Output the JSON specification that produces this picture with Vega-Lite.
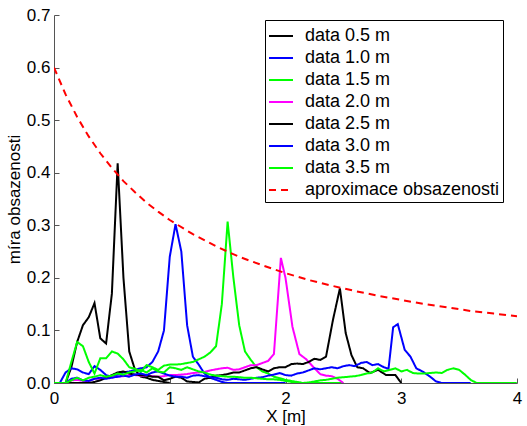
{
"$schema": "https://vega.github.io/schema/vega-lite/v6.json",
"width": 463, "height": 368,
"autosize": {"type": "none"},
"padding": {"left": 54, "top": 15, "right": 10, "bottom": 43},
"background": "white",
"config": {"view": {"stroke": null}, "font": "Liberation Sans"},
"data": {"values": [
{"s":"data 0.5 m","x":0,"y":0},{"s":"data 0.5 m","x":0.05,"y":0},{"s":"data 0.5 m","x":0.1,"y":0},{"s":"data 0.5 m","x":0.15,"y":0.03},{"s":"data 0.5 m","x":0.2,"y":0.078},{"s":"data 0.5 m","x":0.25,"y":0.11},{"s":"data 0.5 m","x":0.3,"y":0.125},{"s":"data 0.5 m","x":0.35,"y":0.152},{"s":"data 0.5 m","x":0.4,"y":0.085},{"s":"data 0.5 m","x":0.45,"y":0.075},{"s":"data 0.5 m","x":0.5,"y":0.17},{"s":"data 0.5 m","x":0.55,"y":0.418},{"s":"data 0.5 m","x":0.6,"y":0.2},{"s":"data 0.5 m","x":0.65,"y":0.06},{"s":"data 0.5 m","x":0.7,"y":0.025},{"s":"data 0.5 m","x":0.75,"y":0.012},{"s":"data 0.5 m","x":0.8,"y":0.01},{"s":"data 0.5 m","x":0.85,"y":0.006},{"s":"data 0.5 m","x":0.9,"y":0.004},{"s":"data 0.5 m","x":0.95,"y":0.002},{"s":"data 0.5 m","x":1.0,"y":0},
{"s":"data 1.0 m","x":0,"y":0},{"s":"data 1.0 m","x":0.05,"y":0},{"s":"data 1.0 m","x":0.1,"y":0.02},{"s":"data 1.0 m","x":0.15,"y":0.028},{"s":"data 1.0 m","x":0.2,"y":0.026},{"s":"data 1.0 m","x":0.25,"y":0.02},{"s":"data 1.0 m","x":0.3,"y":0.017},{"s":"data 1.0 m","x":0.35,"y":0.032},{"s":"data 1.0 m","x":0.4,"y":0.025},{"s":"data 1.0 m","x":0.45,"y":0.015},{"s":"data 1.0 m","x":0.5,"y":0.012},{"s":"data 1.0 m","x":0.55,"y":0.016},{"s":"data 1.0 m","x":0.6,"y":0.02},{"s":"data 1.0 m","x":0.65,"y":0.022},{"s":"data 1.0 m","x":0.7,"y":0.025},{"s":"data 1.0 m","x":0.75,"y":0.028},{"s":"data 1.0 m","x":0.8,"y":0.03},{"s":"data 1.0 m","x":0.85,"y":0.04},{"s":"data 1.0 m","x":0.9,"y":0.06},{"s":"data 1.0 m","x":0.95,"y":0.1},{"s":"data 1.0 m","x":1.0,"y":0.24},{"s":"data 1.0 m","x":1.05,"y":0.302},{"s":"data 1.0 m","x":1.1,"y":0.25},{"s":"data 1.0 m","x":1.15,"y":0.11},{"s":"data 1.0 m","x":1.2,"y":0.05},{"s":"data 1.0 m","x":1.25,"y":0.035},{"s":"data 1.0 m","x":1.3,"y":0.018},{"s":"data 1.0 m","x":1.35,"y":0.01},{"s":"data 1.0 m","x":1.4,"y":0.006},{"s":"data 1.0 m","x":1.45,"y":0.002},{"s":"data 1.0 m","x":1.5,"y":0},{"s":"data 1.0 m","x":1.75,"y":0},{"s":"data 1.0 m","x":2.0,"y":0},
{"s":"data 1.5 m","x":0,"y":0},{"s":"data 1.5 m","x":0.05,"y":0},{"s":"data 1.5 m","x":0.1,"y":0},{"s":"data 1.5 m","x":0.15,"y":0.04},{"s":"data 1.5 m","x":0.2,"y":0.078},{"s":"data 1.5 m","x":0.25,"y":0.07},{"s":"data 1.5 m","x":0.3,"y":0.04},{"s":"data 1.5 m","x":0.35,"y":0.018},{"s":"data 1.5 m","x":0.4,"y":0.047},{"s":"data 1.5 m","x":0.45,"y":0.047},{"s":"data 1.5 m","x":0.5,"y":0.06},{"s":"data 1.5 m","x":0.55,"y":0.056},{"s":"data 1.5 m","x":0.6,"y":0.045},{"s":"data 1.5 m","x":0.65,"y":0.03},{"s":"data 1.5 m","x":0.7,"y":0.027},{"s":"data 1.5 m","x":0.75,"y":0.021},{"s":"data 1.5 m","x":0.8,"y":0.034},{"s":"data 1.5 m","x":0.85,"y":0.03},{"s":"data 1.5 m","x":0.9,"y":0.025},{"s":"data 1.5 m","x":0.95,"y":0.033},{"s":"data 1.5 m","x":1.0,"y":0.035},{"s":"data 1.5 m","x":1.05,"y":0.035},{"s":"data 1.5 m","x":1.1,"y":0.036},{"s":"data 1.5 m","x":1.15,"y":0.038},{"s":"data 1.5 m","x":1.2,"y":0.04},{"s":"data 1.5 m","x":1.25,"y":0.045},{"s":"data 1.5 m","x":1.3,"y":0.05},{"s":"data 1.5 m","x":1.35,"y":0.058},{"s":"data 1.5 m","x":1.4,"y":0.07},{"s":"data 1.5 m","x":1.45,"y":0.15},{"s":"data 1.5 m","x":1.5,"y":0.307},{"s":"data 1.5 m","x":1.55,"y":0.2},{"s":"data 1.5 m","x":1.6,"y":0.11},{"s":"data 1.5 m","x":1.65,"y":0.06},{"s":"data 1.5 m","x":1.7,"y":0.044},{"s":"data 1.5 m","x":1.75,"y":0.03},{"s":"data 1.5 m","x":1.8,"y":0.022},{"s":"data 1.5 m","x":1.85,"y":0.018},{"s":"data 1.5 m","x":1.9,"y":0.012},{"s":"data 1.5 m","x":1.95,"y":0.009},{"s":"data 1.5 m","x":2.0,"y":0.006},{"s":"data 1.5 m","x":2.05,"y":0.004},{"s":"data 1.5 m","x":2.1,"y":0.002},{"s":"data 1.5 m","x":2.15,"y":0},{"s":"data 1.5 m","x":2.5,"y":0},
{"s":"data 2.0 m","x":0,"y":0},{"s":"data 2.0 m","x":0.05,"y":0},{"s":"data 2.0 m","x":0.1,"y":0},{"s":"data 2.0 m","x":0.15,"y":0.005},{"s":"data 2.0 m","x":0.2,"y":0.006},{"s":"data 2.0 m","x":0.25,"y":0.004},{"s":"data 2.0 m","x":0.3,"y":0.004},{"s":"data 2.0 m","x":0.35,"y":0.008},{"s":"data 2.0 m","x":0.4,"y":0.008},{"s":"data 2.0 m","x":0.45,"y":0.01},{"s":"data 2.0 m","x":0.5,"y":0.011},{"s":"data 2.0 m","x":0.55,"y":0.012},{"s":"data 2.0 m","x":0.6,"y":0.013},{"s":"data 2.0 m","x":0.65,"y":0.015},{"s":"data 2.0 m","x":0.7,"y":0.015},{"s":"data 2.0 m","x":0.75,"y":0.014},{"s":"data 2.0 m","x":0.8,"y":0.014},{"s":"data 2.0 m","x":0.85,"y":0.013},{"s":"data 2.0 m","x":0.9,"y":0.012},{"s":"data 2.0 m","x":0.95,"y":0.013},{"s":"data 2.0 m","x":1.0,"y":0.015},{"s":"data 2.0 m","x":1.05,"y":0.015},{"s":"data 2.0 m","x":1.1,"y":0.016},{"s":"data 2.0 m","x":1.15,"y":0.017},{"s":"data 2.0 m","x":1.2,"y":0.019},{"s":"data 2.0 m","x":1.25,"y":0.02},{"s":"data 2.0 m","x":1.3,"y":0.021},{"s":"data 2.0 m","x":1.35,"y":0.024},{"s":"data 2.0 m","x":1.4,"y":0.026},{"s":"data 2.0 m","x":1.45,"y":0.028},{"s":"data 2.0 m","x":1.5,"y":0.029},{"s":"data 2.0 m","x":1.55,"y":0.025},{"s":"data 2.0 m","x":1.6,"y":0.026},{"s":"data 2.0 m","x":1.65,"y":0.03},{"s":"data 2.0 m","x":1.7,"y":0.034},{"s":"data 2.0 m","x":1.75,"y":0.034},{"s":"data 2.0 m","x":1.8,"y":0.038},{"s":"data 2.0 m","x":1.85,"y":0.042},{"s":"data 2.0 m","x":1.9,"y":0.055},{"s":"data 2.0 m","x":1.96,"y":0.238},{"s":"data 2.0 m","x":2.0,"y":0.2},{"s":"data 2.0 m","x":2.06,"y":0.107},{"s":"data 2.0 m","x":2.12,"y":0.055},{"s":"data 2.0 m","x":2.18,"y":0.045},{"s":"data 2.0 m","x":2.25,"y":0.028},{"s":"data 2.0 m","x":2.3,"y":0.017},{"s":"data 2.0 m","x":2.35,"y":0.014},{"s":"data 2.0 m","x":2.4,"y":0.013},{"s":"data 2.0 m","x":2.45,"y":0.008},{"s":"data 2.0 m","x":2.5,"y":0},
{"s":"data 2.5 m","x":0,"y":0},{"s":"data 2.5 m","x":0.1,"y":0},{"s":"data 2.5 m","x":0.2,"y":0},{"s":"data 2.5 m","x":0.3,"y":0},{"s":"data 2.5 m","x":0.35,"y":0.002},{"s":"data 2.5 m","x":0.4,"y":0.005},{"s":"data 2.5 m","x":0.45,"y":0.01},{"s":"data 2.5 m","x":0.5,"y":0.015},{"s":"data 2.5 m","x":0.55,"y":0.02},{"s":"data 2.5 m","x":0.6,"y":0.022},{"s":"data 2.5 m","x":0.65,"y":0.018},{"s":"data 2.5 m","x":0.7,"y":0.016},{"s":"data 2.5 m","x":0.75,"y":0.015},{"s":"data 2.5 m","x":0.8,"y":0.014},{"s":"data 2.5 m","x":0.85,"y":0.012},{"s":"data 2.5 m","x":0.9,"y":0.012},{"s":"data 2.5 m","x":0.95,"y":0.005},{"s":"data 2.5 m","x":1.0,"y":0.008},{"s":"data 2.5 m","x":1.05,"y":0.012},{"s":"data 2.5 m","x":1.1,"y":0.01},{"s":"data 2.5 m","x":1.15,"y":0.003},{"s":"data 2.5 m","x":1.2,"y":0.002},{"s":"data 2.5 m","x":1.25,"y":0.001},{"s":"data 2.5 m","x":1.3,"y":0.008},{"s":"data 2.5 m","x":1.35,"y":0.01},{"s":"data 2.5 m","x":1.4,"y":0.014},{"s":"data 2.5 m","x":1.45,"y":0.015},{"s":"data 2.5 m","x":1.5,"y":0.017},{"s":"data 2.5 m","x":1.55,"y":0.02},{"s":"data 2.5 m","x":1.6,"y":0.02},{"s":"data 2.5 m","x":1.65,"y":0.024},{"s":"data 2.5 m","x":1.7,"y":0.028},{"s":"data 2.5 m","x":1.75,"y":0.03},{"s":"data 2.5 m","x":1.8,"y":0.026},{"s":"data 2.5 m","x":1.85,"y":0.022},{"s":"data 2.5 m","x":1.9,"y":0.028},{"s":"data 2.5 m","x":1.95,"y":0.03},{"s":"data 2.5 m","x":2.0,"y":0.03},{"s":"data 2.5 m","x":2.05,"y":0.036},{"s":"data 2.5 m","x":2.1,"y":0.037},{"s":"data 2.5 m","x":2.15,"y":0.036},{"s":"data 2.5 m","x":2.2,"y":0.04},{"s":"data 2.5 m","x":2.25,"y":0.046},{"s":"data 2.5 m","x":2.3,"y":0.044},{"s":"data 2.5 m","x":2.35,"y":0.05},{"s":"data 2.5 m","x":2.41,"y":0.12},{"s":"data 2.5 m","x":2.47,"y":0.18},{"s":"data 2.5 m","x":2.52,"y":0.095},{"s":"data 2.5 m","x":2.57,"y":0.053},{"s":"data 2.5 m","x":2.62,"y":0.03},{"s":"data 2.5 m","x":2.67,"y":0.028},{"s":"data 2.5 m","x":2.73,"y":0.019},{"s":"data 2.5 m","x":2.8,"y":0.025},{"s":"data 2.5 m","x":2.87,"y":0.015},{"s":"data 2.5 m","x":2.95,"y":0.015},{"s":"data 2.5 m","x":3.0,"y":0},
{"s":"data 3.0 m","x":0,"y":0},{"s":"data 3.0 m","x":0.05,"y":0},{"s":"data 3.0 m","x":0.1,"y":0},{"s":"data 3.0 m","x":0.15,"y":0.008},{"s":"data 3.0 m","x":0.2,"y":0.01},{"s":"data 3.0 m","x":0.25,"y":0.005},{"s":"data 3.0 m","x":0.3,"y":0.004},{"s":"data 3.0 m","x":0.35,"y":0.008},{"s":"data 3.0 m","x":0.4,"y":0.01},{"s":"data 3.0 m","x":0.45,"y":0.008},{"s":"data 3.0 m","x":0.5,"y":0.01},{"s":"data 3.0 m","x":0.55,"y":0.012},{"s":"data 3.0 m","x":0.6,"y":0.014},{"s":"data 3.0 m","x":0.65,"y":0.012},{"s":"data 3.0 m","x":0.7,"y":0.016},{"s":"data 3.0 m","x":0.75,"y":0.018},{"s":"data 3.0 m","x":0.8,"y":0.015},{"s":"data 3.0 m","x":0.85,"y":0.02},{"s":"data 3.0 m","x":0.9,"y":0.022},{"s":"data 3.0 m","x":0.95,"y":0.018},{"s":"data 3.0 m","x":1.0,"y":0.014},{"s":"data 3.0 m","x":1.05,"y":0.012},{"s":"data 3.0 m","x":1.1,"y":0.012},{"s":"data 3.0 m","x":1.15,"y":0.01},{"s":"data 3.0 m","x":1.2,"y":0.014},{"s":"data 3.0 m","x":1.25,"y":0.015},{"s":"data 3.0 m","x":1.3,"y":0.013},{"s":"data 3.0 m","x":1.35,"y":0.011},{"s":"data 3.0 m","x":1.4,"y":0.01},{"s":"data 3.0 m","x":1.45,"y":0.007},{"s":"data 3.0 m","x":1.5,"y":0.006},{"s":"data 3.0 m","x":1.55,"y":0.008},{"s":"data 3.0 m","x":1.6,"y":0.007},{"s":"data 3.0 m","x":1.65,"y":0.006},{"s":"data 3.0 m","x":1.7,"y":0.008},{"s":"data 3.0 m","x":1.75,"y":0.01},{"s":"data 3.0 m","x":1.8,"y":0.011},{"s":"data 3.0 m","x":1.85,"y":0.014},{"s":"data 3.0 m","x":1.9,"y":0.016},{"s":"data 3.0 m","x":1.95,"y":0.019},{"s":"data 3.0 m","x":2.0,"y":0.015},{"s":"data 3.0 m","x":2.05,"y":0.014},{"s":"data 3.0 m","x":2.1,"y":0.018},{"s":"data 3.0 m","x":2.15,"y":0.02},{"s":"data 3.0 m","x":2.2,"y":0.024},{"s":"data 3.0 m","x":2.25,"y":0.028},{"s":"data 3.0 m","x":2.3,"y":0.026},{"s":"data 3.0 m","x":2.35,"y":0.028},{"s":"data 3.0 m","x":2.4,"y":0.03},{"s":"data 3.0 m","x":2.45,"y":0.028},{"s":"data 3.0 m","x":2.5,"y":0.032},{"s":"data 3.0 m","x":2.55,"y":0.034},{"s":"data 3.0 m","x":2.6,"y":0.032},{"s":"data 3.0 m","x":2.65,"y":0.038},{"s":"data 3.0 m","x":2.7,"y":0.04},{"s":"data 3.0 m","x":2.75,"y":0.034},{"s":"data 3.0 m","x":2.8,"y":0.036},{"s":"data 3.0 m","x":2.85,"y":0.03},{"s":"data 3.0 m","x":2.89,"y":0.027},{"s":"data 3.0 m","x":2.93,"y":0.106},{"s":"data 3.0 m","x":2.97,"y":0.112},{"s":"data 3.0 m","x":3.03,"y":0.063},{"s":"data 3.0 m","x":3.08,"y":0.05},{"s":"data 3.0 m","x":3.13,"y":0.028},{"s":"data 3.0 m","x":3.19,"y":0.021},{"s":"data 3.0 m","x":3.25,"y":0.012},{"s":"data 3.0 m","x":3.3,"y":0.003},{"s":"data 3.0 m","x":3.35,"y":0},{"s":"data 3.0 m","x":3.6,"y":0},
{"s":"data 3.5 m","x":0,"y":0},{"s":"data 3.5 m","x":0.05,"y":0},{"s":"data 3.5 m","x":0.1,"y":0},{"s":"data 3.5 m","x":0.15,"y":0.005},{"s":"data 3.5 m","x":0.2,"y":0.01},{"s":"data 3.5 m","x":0.25,"y":0.005},{"s":"data 3.5 m","x":0.3,"y":0.01},{"s":"data 3.5 m","x":0.35,"y":0.012},{"s":"data 3.5 m","x":0.4,"y":0.015},{"s":"data 3.5 m","x":0.45,"y":0.012},{"s":"data 3.5 m","x":0.5,"y":0.014},{"s":"data 3.5 m","x":0.55,"y":0.018},{"s":"data 3.5 m","x":0.6,"y":0.016},{"s":"data 3.5 m","x":0.65,"y":0.02},{"s":"data 3.5 m","x":0.7,"y":0.022},{"s":"data 3.5 m","x":0.75,"y":0.025},{"s":"data 3.5 m","x":0.8,"y":0.02},{"s":"data 3.5 m","x":0.85,"y":0.028},{"s":"data 3.5 m","x":0.9,"y":0.022},{"s":"data 3.5 m","x":0.95,"y":0.02},{"s":"data 3.5 m","x":1.0,"y":0.03},{"s":"data 3.5 m","x":1.05,"y":0.028},{"s":"data 3.5 m","x":1.1,"y":0.025},{"s":"data 3.5 m","x":1.15,"y":0.03},{"s":"data 3.5 m","x":1.2,"y":0.026},{"s":"data 3.5 m","x":1.25,"y":0.022},{"s":"data 3.5 m","x":1.3,"y":0.02},{"s":"data 3.5 m","x":1.35,"y":0.016},{"s":"data 3.5 m","x":1.4,"y":0.014},{"s":"data 3.5 m","x":1.45,"y":0.013},{"s":"data 3.5 m","x":1.5,"y":0.012},{"s":"data 3.5 m","x":1.55,"y":0.012},{"s":"data 3.5 m","x":1.6,"y":0.011},{"s":"data 3.5 m","x":1.65,"y":0.01},{"s":"data 3.5 m","x":1.7,"y":0.01},{"s":"data 3.5 m","x":1.75,"y":0.009},{"s":"data 3.5 m","x":1.8,"y":0.008},{"s":"data 3.5 m","x":1.85,"y":0.007},{"s":"data 3.5 m","x":1.9,"y":0.007},{"s":"data 3.5 m","x":1.95,"y":0.006},{"s":"data 3.5 m","x":2.0,"y":0.004},{"s":"data 3.5 m","x":2.05,"y":0.002},{"s":"data 3.5 m","x":2.1,"y":0.001},{"s":"data 3.5 m","x":2.15,"y":0},{"s":"data 3.5 m","x":2.2,"y":0.001},{"s":"data 3.5 m","x":2.25,"y":0.003},{"s":"data 3.5 m","x":2.3,"y":0.005},{"s":"data 3.5 m","x":2.35,"y":0.006},{"s":"data 3.5 m","x":2.4,"y":0.008},{"s":"data 3.5 m","x":2.45,"y":0.01},{"s":"data 3.5 m","x":2.5,"y":0.011},{"s":"data 3.5 m","x":2.55,"y":0.012},{"s":"data 3.5 m","x":2.6,"y":0.013},{"s":"data 3.5 m","x":2.65,"y":0.015},{"s":"data 3.5 m","x":2.7,"y":0.018},{"s":"data 3.5 m","x":2.75,"y":0.02},{"s":"data 3.5 m","x":2.8,"y":0.028},{"s":"data 3.5 m","x":2.85,"y":0.022},{"s":"data 3.5 m","x":2.9,"y":0.025},{"s":"data 3.5 m","x":2.95,"y":0.028},{"s":"data 3.5 m","x":3.0,"y":0.022},{"s":"data 3.5 m","x":3.05,"y":0.025},{"s":"data 3.5 m","x":3.1,"y":0.019},{"s":"data 3.5 m","x":3.15,"y":0.018},{"s":"data 3.5 m","x":3.2,"y":0.018},{"s":"data 3.5 m","x":3.25,"y":0.019},{"s":"data 3.5 m","x":3.3,"y":0.02},{"s":"data 3.5 m","x":3.35,"y":0.019},{"s":"data 3.5 m","x":3.4,"y":0.025},{"s":"data 3.5 m","x":3.45,"y":0.028},{"s":"data 3.5 m","x":3.5,"y":0.025},{"s":"data 3.5 m","x":3.55,"y":0.016},{"s":"data 3.5 m","x":3.6,"y":0.006},{"s":"data 3.5 m","x":3.65,"y":0},{"s":"data 3.5 m","x":4.0,"y":0},
{"s":"aproximace obsazenosti","x":0,"y":0.6},{"s":"aproximace obsazenosti","x":0.1,"y":0.549},{"s":"aproximace obsazenosti","x":0.2,"y":0.506},{"s":"aproximace obsazenosti","x":0.3,"y":0.469},{"s":"aproximace obsazenosti","x":0.4,"y":0.437},{"s":"aproximace obsazenosti","x":0.5,"y":0.409},{"s":"aproximace obsazenosti","x":0.6,"y":0.384},{"s":"aproximace obsazenosti","x":0.7,"y":0.363},{"s":"aproximace obsazenosti","x":0.8,"y":0.343},{"s":"aproximace obsazenosti","x":0.9,"y":0.326},{"s":"aproximace obsazenosti","x":1.0,"y":0.31},{"s":"aproximace obsazenosti","x":1.2,"y":0.283},{"s":"aproximace obsazenosti","x":1.4,"y":0.26},{"s":"aproximace obsazenosti","x":1.6,"y":0.24},{"s":"aproximace obsazenosti","x":1.8,"y":0.224},{"s":"aproximace obsazenosti","x":2.0,"y":0.209},{"s":"aproximace obsazenosti","x":2.2,"y":0.196},{"s":"aproximace obsazenosti","x":2.4,"y":0.185},{"s":"aproximace obsazenosti","x":2.6,"y":0.175},{"s":"aproximace obsazenosti","x":2.8,"y":0.166},{"s":"aproximace obsazenosti","x":3.0,"y":0.158},{"s":"aproximace obsazenosti","x":3.2,"y":0.15},{"s":"aproximace obsazenosti","x":3.4,"y":0.144},{"s":"aproximace obsazenosti","x":3.6,"y":0.137},{"s":"aproximace obsazenosti","x":3.8,"y":0.132},{"s":"aproximace obsazenosti","x":4.0,"y":0.127}
]},
"mark": {"type": "line", "strokeWidth": 2, "clip": true},
"encoding": {
  "x": {"field": "x", "type": "quantitative",
    "scale": {"domain": [0, 4], "nice": false, "zero": false},
    "axis": {"values": [0, 1, 2, 3, 4], "format": "d", "title": "X [m]", "grid": false,
      "tickSize": -5, "labelPadding": 12, "labelFlush": false, "labelOverlap": false,
      "domainColor": "#555", "tickColor": "#555", "labelColor": "black", "labelFontSize": 17,
      "titleFontSize": 17, "titleFontWeight": "normal", "titleColor": "black", "titleY": 33, "titleBaseline": "middle"}},
  "y": {"field": "y", "type": "quantitative",
    "scale": {"domain": [0, 0.7], "nice": false},
    "axis": {"values": [0, 0.1, 0.2, 0.3, 0.4, 0.5, 0.6, 0.7], "title": "míra obsazenosti", "grid": false,
      "tickSize": -5, "labelPadding": 9, "labelFlush": false, "labelOverlap": false,
      "domainColor": "#555", "tickColor": "#555", "labelColor": "black", "labelFontSize": 17,
      "titleFontSize": 17, "titleFontWeight": "normal", "titleColor": "black",
      "titleX": -40, "titleY": 184, "titleAngle": -90, "titleBaseline": "middle", "titleAlign": "center"}},
  "color": {"field": "s", "type": "nominal",
    "scale": {"domain": ["data 0.5 m", "data 1.0 m", "data 1.5 m", "data 2.0 m", "data 2.5 m", "data 3.0 m", "data 3.5 m", "aproximace obsazenosti"],
      "range": ["#000000", "#0000ff", "#00ff00", "#ff00ff", "#000000", "#0000ff", "#00ff00", "#ff0000"]},
    "legend": {"title": null, "orient": "none", "legendX": 211, "legendY": 5, "strokeColor": "black", "fillColor": "white",
      "padding": 3, "symbolType": "stroke", "symbolSize": 576, "symbolStrokeWidth": 2, "labelFontSize": 18, "labelColor": "black",
      "labelOffset": 11, "rowPadding": 0, "labelLimit": 400}},
  "strokeDash": {"field": "s", "type": "nominal",
    "scale": {"domain": ["data 0.5 m", "data 1.0 m", "data 1.5 m", "data 2.0 m", "data 2.5 m", "data 3.0 m", "data 3.5 m", "aproximace obsazenosti"],
      "range": [[1, 0], [1, 0], [1, 0], [1, 0], [1, 0], [1, 0], [1, 0], [7, 5]]},
    "legend": {"title": null, "orient": "none", "legendX": 211, "legendY": 5, "strokeColor": "black", "fillColor": "white",
      "padding": 3, "symbolType": "stroke", "symbolSize": 576, "symbolStrokeWidth": 2, "labelFontSize": 18, "labelColor": "black",
      "labelOffset": 11, "rowPadding": 0, "labelLimit": 400}}
}
}
